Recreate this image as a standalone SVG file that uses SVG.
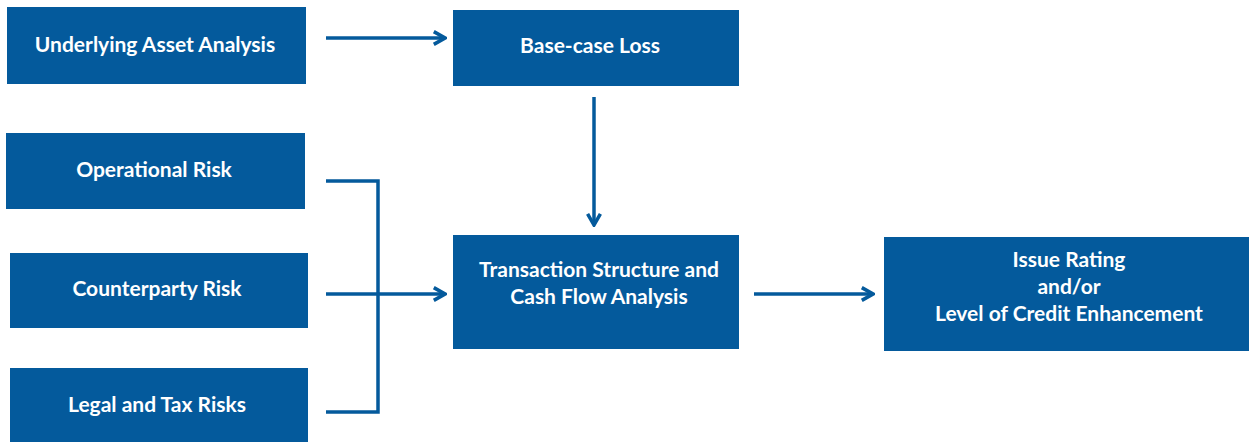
<svg xmlns="http://www.w3.org/2000/svg" width="1249" height="442" viewBox="0 0 1249 442">
<style>
.box{fill:#045A9C}
.t{font-family:Lato,"Open Sans",sans-serif;font-weight:bold;font-size:21px;fill:#fff;text-anchor:middle;dominant-baseline:central}
.c{fill:none;stroke:#045A9C;stroke-width:3.5}
</style>
<defs>
<marker id="a" viewBox="0 0 10 10" refX="9" refY="5" markerWidth="16" markerHeight="16" markerUnits="userSpaceOnUse" orient="auto">
<path d="M2,1 L9,5 L2,9" fill="none" stroke="#045A9C" stroke-width="2.2"/>
</marker>
</defs>
<rect width="1249" height="442" fill="#fff"/>
<g id="underlying"><rect class="box" x="7" y="7" width="299" height="77"/><text class="t" x="155" y="43">Underlying Asset Analysis</text></g>
<g id="operational"><rect class="box" x="6" y="133" width="299" height="76"/><text class="t" x="154" y="168">Operational Risk</text></g>
<g id="counterparty"><rect class="box" x="10" y="253" width="298" height="75"/><text class="t" x="157" y="287">Counterparty Risk</text></g>
<g id="legal"><rect class="box" x="10" y="368" width="298" height="74"/><text class="t" x="157" y="403">Legal and Tax Risks</text></g>
<g id="basecase"><rect class="box" x="453" y="10" width="286" height="76"/><text class="t" x="590" y="44">Base-case Loss</text></g>
<g id="transaction"><rect class="box" x="453" y="235" width="286" height="114"/><text class="t" x="599" y="268">Transaction Structure and</text><text class="t" x="599" y="295">Cash Flow Analysis</text></g>
<g id="issue"><rect class="box" x="884" y="237" width="365" height="114"/><text class="t" x="1069" y="258">Issue Rating</text><text class="t" x="1069" y="285">and/or</text><text class="t" x="1069" y="312">Level of Credit Enhancement</text></g>
<g id="connectors">
<path class="c" d="M326,38 H445" marker-end="url(#a)"/>
<path class="c" d="M594,97 V225" marker-end="url(#a)"/>
<path class="c" d="M326,181 H378 V412 H326"/>
<path class="c" d="M326,294 H445" marker-end="url(#a)"/>
<path class="c" d="M754,294 H873" marker-end="url(#a)"/>
</g>
</svg>
